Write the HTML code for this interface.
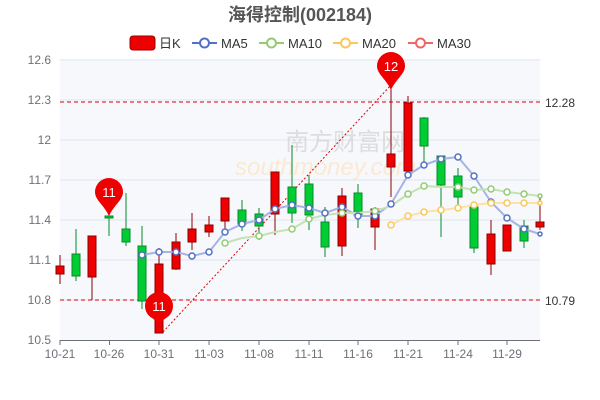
<!DOCTYPE html><html><head><meta charset="utf-8"><style>body{margin:0;background:#fff}svg{display:block;font-family:"Liberation Sans","Noto Sans CJK SC",sans-serif}</style></head><body>
<svg width="600" height="400" xmlns="http://www.w3.org/2000/svg">
<text x="300" y="21" text-anchor="middle" font-size="18" font-weight="bold" fill="#555">海得控制(002184)</text>
<g font-size="13" fill="#333">
<rect x="130" y="36" width="25" height="14" rx="3" fill="#e00" stroke="#900"/><text x="159" y="48">日K</text>
<line x1="192" y1="43" x2="217" y2="43" stroke="#5470c6" stroke-width="2"/><circle cx="204.5" cy="43" r="4.5" fill="#fff" stroke="#5470c6" stroke-width="2"/><text x="221" y="48">MA5</text>
<line x1="259" y1="43" x2="284" y2="43" stroke="#91cc75" stroke-width="2"/><circle cx="271.5" cy="43" r="4.5" fill="#fff" stroke="#91cc75" stroke-width="2"/><text x="288" y="48">MA10</text>
<line x1="333" y1="43" x2="358" y2="43" stroke="#fac858" stroke-width="2"/><circle cx="345.5" cy="43" r="4.5" fill="#fff" stroke="#fac858" stroke-width="2"/><text x="362" y="48">MA20</text>
<line x1="408" y1="43" x2="433" y2="43" stroke="#ee6666" stroke-width="2"/><circle cx="420.5" cy="43" r="4.5" fill="#fff" stroke="#ee6666" stroke-width="2"/><text x="437" y="48">MA30</text>
</g>
<rect x="60" y="60" width="480" height="280" fill="#f7f8fc"/>
<g stroke="#dde3ef"><line x1="60" y1="60" x2="540" y2="60"/><line x1="60" y1="100" x2="540" y2="100"/><line x1="60" y1="140" x2="540" y2="140"/><line x1="60" y1="180" x2="540" y2="180"/><line x1="60" y1="220" x2="540" y2="220"/><line x1="60" y1="260" x2="540" y2="260"/><line x1="60" y1="300" x2="540" y2="300"/></g>
<line x1="60" y1="340.5" x2="540" y2="340.5" stroke="#6e7079"/>
<g stroke="#6e7079"><line x1="60" y1="340" x2="60" y2="345"/><line x1="109.5" y1="340" x2="109.5" y2="345"/><line x1="159" y1="340" x2="159" y2="345"/><line x1="209" y1="340" x2="209" y2="345"/><line x1="259" y1="340" x2="259" y2="345"/><line x1="309" y1="340" x2="309" y2="345"/><line x1="358" y1="340" x2="358" y2="345"/><line x1="408" y1="340" x2="408" y2="345"/><line x1="458" y1="340" x2="458" y2="345"/><line x1="507" y1="340" x2="507" y2="345"/></g>
<g font-size="12" fill="#6e7079" text-anchor="end"><text x="51" y="64">12.6</text><text x="51" y="104">12.3</text><text x="51" y="144">12</text><text x="51" y="184">11.7</text><text x="51" y="224">11.4</text><text x="51" y="264">11.1</text><text x="51" y="304">10.8</text><text x="51" y="344">10.5</text></g>
<g font-size="12" fill="#6e7079" text-anchor="middle"><text x="60" y="358">10-21</text><text x="109" y="358">10-26</text><text x="159" y="358">10-31</text><text x="209" y="358">11-03</text><text x="259" y="358">11-08</text><text x="309" y="358">11-11</text><text x="358" y="358">11-16</text><text x="408" y="358">11-21</text><text x="458" y="358">11-24</text><text x="507" y="358">11-29</text></g>
<text x="285" y="150" font-size="24" fill="#ccc" opacity="0.6">南方财富网</text>
<text x="235" y="175" font-size="24" font-style="italic" fill="#fde3c0" opacity="0.7">southmoney.com</text>
<line x1="60" y1="102" x2="540" y2="102" stroke="#d00" stroke-dasharray="4,3"/>
<line x1="60" y1="300" x2="540" y2="300" stroke="#d00" stroke-dasharray="4,3"/>
<line x1="163" y1="332" x2="391" y2="85" stroke="#d00" stroke-dasharray="2,2"/>
<g font-size="12" fill="#333"><text x="545" y="107">12.28</text><text x="545" y="305">10.79</text></g>
<g>
<g stroke="#8a0000" fill="#e00">
<line x1="60" y1="255" x2="60" y2="284"/><rect x="56" y="266" width="8" height="8"/>
<line x1="92" y1="236" x2="92" y2="300"/><rect x="88" y="236" width="8" height="41"/>
<line x1="159" y1="248" x2="159" y2="333"/><rect x="155" y="264" width="8" height="69"/>
<line x1="176" y1="233" x2="176" y2="270"/><rect x="172" y="242" width="8" height="27"/>
<line x1="192" y1="213" x2="192" y2="250"/><rect x="188" y="229" width="8" height="13"/>
<line x1="209" y1="216" x2="209" y2="237"/><rect x="205" y="225" width="8" height="7"/>
<line x1="225" y1="198" x2="225" y2="230"/><rect x="221" y="198" width="8" height="23"/>
<line x1="275" y1="172" x2="275" y2="235"/><rect x="271" y="172" width="8" height="42"/>
<line x1="342" y1="188" x2="342" y2="256"/><rect x="338" y="196" width="8" height="50"/>
<line x1="375" y1="207" x2="375" y2="250"/><rect x="371" y="209" width="8" height="18"/>
<line x1="391" y1="82" x2="391" y2="197"/><rect x="387" y="154" width="8" height="13"/>
<line x1="408" y1="96" x2="408" y2="171"/><rect x="404" y="103" width="8" height="68"/>
<line x1="491" y1="220" x2="491" y2="275"/><rect x="487" y="234" width="8" height="30"/>
<line x1="507" y1="225" x2="507" y2="251"/><rect x="503" y="225" width="8" height="26"/>
<line x1="540" y1="197" x2="540" y2="230"/><rect x="536" y="222" width="8" height="5"/>
</g>
<g stroke="#0a8a2a" fill="#0c3">
<line x1="76" y1="229" x2="76" y2="281"/><rect x="72" y="254" width="8" height="22"/>
<line x1="109" y1="190" x2="109" y2="236"/><rect x="105" y="216" width="8" height="2"/>
<line x1="126" y1="193" x2="126" y2="246"/><rect x="122" y="229" width="8" height="13"/>
<line x1="142" y1="226" x2="142" y2="309"/><rect x="138" y="246" width="8" height="55"/>
<line x1="242" y1="200" x2="242" y2="231"/><rect x="238" y="210" width="8" height="14"/>
<line x1="259" y1="208" x2="259" y2="240"/><rect x="255" y="214" width="8" height="12"/>
<line x1="292" y1="145" x2="292" y2="223"/><rect x="288" y="187" width="8" height="26"/>
<line x1="309" y1="175" x2="309" y2="230"/><rect x="305" y="184" width="8" height="31"/>
<line x1="325" y1="207" x2="325" y2="257"/><rect x="321" y="222" width="8" height="25"/>
<line x1="358" y1="184" x2="358" y2="228"/><rect x="354" y="193" width="8" height="22"/>
<line x1="424" y1="117" x2="424" y2="165"/><rect x="420" y="118" width="8" height="28"/>
<line x1="441" y1="156" x2="441" y2="237"/><rect x="437" y="156" width="8" height="29"/>
<line x1="458" y1="168" x2="458" y2="205"/><rect x="454" y="176" width="8" height="21"/>
<line x1="474" y1="207" x2="474" y2="253"/><rect x="470" y="207" width="8" height="41"/>
<line x1="524" y1="220" x2="524" y2="248"/><rect x="520" y="226" width="8" height="15"/>
</g>
</g>
<g fill="none" stroke-width="2" stroke-linejoin="round">
<polyline stroke="#a5b4e3" points="142,255 159,252 176,252 192,256 209,252 225,232 242,224 259,220 275,209 292,205 309,208 325,213 342,207 358,216 375,216 391,204 408,175 424,165 441,159 458,157 474,176 491,202 507,218 524,229 540,234"/>
<polyline stroke="#c3e3b3" points="225,243 242,238 259,236 275,232 292,229 309,219 325,215 342,213 358,213 375,211 391,206 408,194 424,186 441,187 458,187 474,190 491,189 507,192 524,194 540,196"/>
<polyline stroke="#fde2a5" points="391,225 408,216 424,212 441,210 458,208 474,205 491,203 507,203 524,203 540,203"/>
</g>
<g fill="#fff" stroke-width="1.5">
<g stroke="#5470c6"><circle cx="142" cy="255" r="3"/><circle cx="159" cy="252" r="3"/><circle cx="176" cy="252" r="3"/><circle cx="192" cy="256" r="3"/><circle cx="209" cy="252" r="3"/><circle cx="225" cy="232" r="3"/><circle cx="242" cy="224" r="3"/><circle cx="259" cy="220" r="3"/><circle cx="275" cy="209" r="3"/><circle cx="292" cy="205" r="3"/><circle cx="309" cy="208" r="3"/><circle cx="325" cy="213" r="3"/><circle cx="342" cy="207" r="3"/><circle cx="358" cy="216" r="3"/><circle cx="375" cy="216" r="3"/><circle cx="391" cy="204" r="3"/><circle cx="408" cy="175" r="3"/><circle cx="424" cy="165" r="3"/><circle cx="441" cy="159" r="3"/><circle cx="458" cy="157" r="3"/><circle cx="474" cy="176" r="3"/><circle cx="491" cy="202" r="3"/><circle cx="507" cy="218" r="3"/><circle cx="524" cy="229" r="3"/><circle cx="540" cy="234" r="2"/></g>
<g stroke="#91cc75"><circle cx="225" cy="243" r="3"/><circle cx="259" cy="236" r="3"/><circle cx="292" cy="229" r="3"/><circle cx="309" cy="219" r="3"/><circle cx="342" cy="213" r="3"/><circle cx="375" cy="211" r="3"/><circle cx="408" cy="194" r="3"/><circle cx="424" cy="186" r="3"/><circle cx="458" cy="187" r="3"/><circle cx="474" cy="190" r="3"/><circle cx="491" cy="189" r="3"/><circle cx="507" cy="192" r="3"/><circle cx="524" cy="194" r="3"/><circle cx="540" cy="196" r="2"/></g>
<g stroke="#fac858"><circle cx="391" cy="225" r="3"/><circle cx="408" cy="216" r="3"/><circle cx="424" cy="212" r="3"/><circle cx="441" cy="210" r="3"/><circle cx="458" cy="208" r="3"/><circle cx="474" cy="205" r="3"/><circle cx="491" cy="203" r="3"/><circle cx="507" cy="203" r="3"/><circle cx="524" cy="203" r="3"/><circle cx="540" cy="203" r="2"/></g>
</g>
<g fill="#e00">
<path d="M109,216 C104,205 95,200 95,192 A14,14 0 1 1 123,192 C123,200 114,205 109,216Z"/>
<path d="M391,90 C386,79 377,74 377,66 A14,14 0 1 1 405,66 C405,74 396,79 391,90Z"/>
<circle cx="159" cy="306" r="14"/><path d="M150,316 L159,324 L168,316Z"/>
</g>
<g font-size="13" fill="#fff" text-anchor="middle"><text x="109" y="197">11</text><text x="391" y="71">12</text><text x="159" y="311">11</text></g>
</svg>
</body></html>
